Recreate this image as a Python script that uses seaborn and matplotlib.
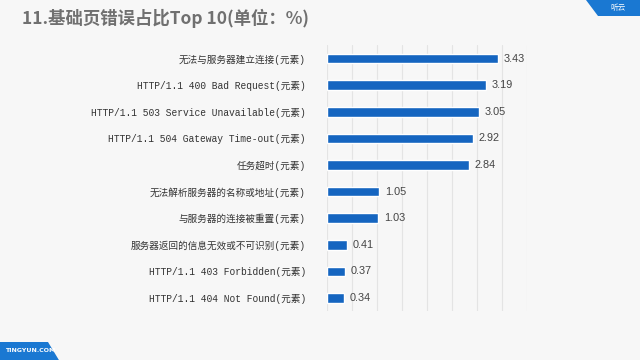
import pandas as pd
import matplotlib
matplotlib.use('Agg')
import matplotlib.pyplot as plt
from matplotlib.patches import Polygon
import seaborn as sns

# Data
labels = ['无法与服务器建立连接(元素)',
          'HTTP/1.1 400 Bad Request(元素)',
          'HTTP/1.1 503 Service Unavailable(元素)',
          'HTTP/1.1 504 Gateway Time-out(元素)',
          '任务超时(元素)',
          '无法解析服务器的名称或地址(元素)',
          '与服务器的连接被重置(元素)',
          '服务器返回的信息无效或不可识别(元素)',
          'HTTP/1.1 403 Forbidden(元素)',
          'HTTP/1.1 404 Not Found(元素)']
values = [3.43, 3.19, 3.05, 2.92, 2.84, 1.05, 1.03, 0.41, 0.37, 0.34]
title = '11.基础页错误占比Top 10(单位：%)'

bg_color = '#f7f7f7'
bar_color = '#1565c0'
tab_color = '#1a78d2'

sns.set_theme(style='white')
plt.rcParams['font.family'] = ['Noto Sans CJK SC', 'DejaVu Sans']

df = pd.DataFrame({'label': labels, 'value': values})

fig = plt.figure(figsize=(6.4, 3.6), dpi=100, facecolor=bg_color)
ax = fig.add_axes([0.5105, 0.135, 0.3125, 0.739])
ax.set_facecolor(bg_color)

sns.barplot(data=df, x='value', y='label', orient='h', color=bar_color,
            width=0.36, saturation=1, ax=ax)

ax.set_xlim(0, 4)
ax.set_ylim(9.5, -0.5)
ax.set_xticks([i * 0.5 for i in range(9)])
ax.xaxis.grid(True, color='#e4e4e4', linewidth=0.8)
ax.set_axisbelow(True)
ax.tick_params(axis='x', bottom=False, labelbottom=False)
ax.tick_params(axis='y', left=False, pad=9)
# monospaced latin, CJK fallback
for t in ax.get_yticklabels():
    t.set_family(['Liberation Mono', 'Noto Sans CJK SC'])
    t.set_fontsize(6.9)
    t.set_color('#333333')
ax.set_xlabel('')
ax.set_ylabel('')
for s in ax.spines.values():
    s.set_visible(False)

ax.bar_label(ax.containers[0], fmt='%.2f', padding=4, fontsize=7.8,
             color='#444444', family='Liberation Sans')

# Title
fig.text(0.034, 0.948, title, fontsize=12.5, fontweight='bold',
         color='#707070', va='center', ha='left')

# Decorative tabs
fig.patches.append(Polygon([[0.915, 1.0], [1.0, 1.0], [1.0, 0.955], [0.935, 0.955]],
                           closed=True, transform=fig.transFigure,
                           facecolor=tab_color, edgecolor='none'))
fig.text(0.965, 0.977, '听云', fontsize=5.5, color='white', ha='center', va='center')
fig.patches.append(Polygon([[0.0, 0.0], [0.092, 0.0], [0.075, 0.05], [0.0, 0.05]],
                           closed=True, transform=fig.transFigure,
                           facecolor=tab_color, edgecolor='none'))
fig.text(0.008, 0.025, 'TINGYUN.COM', fontsize=4.5, color='white',
         fontweight='bold', ha='left', va='center', family='DejaVu Sans')

fig.savefig('out.png', dpi=100, facecolor=bg_color)
